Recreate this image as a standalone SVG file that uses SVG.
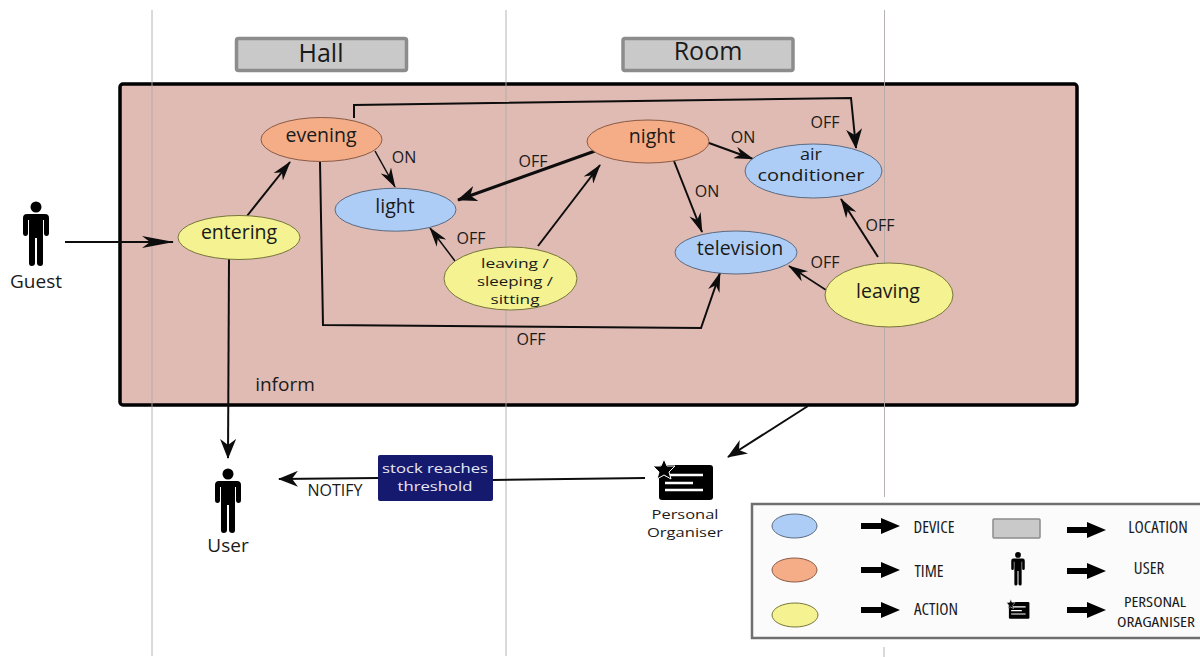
<svg xmlns="http://www.w3.org/2000/svg" width="1200" height="657" viewBox="0 0 1200 657">
<style>
text{font-family:"Open Sans","Liberation Sans",sans-serif;fill:#1a1a1a;text-anchor:middle}
.n{font-size:19.500px}.s{font-size:16px}.g{font-size:19px}
.l{font-size:13.200px}.h{font-size:25px}.o{font-size:13.200px}.a{font-size:15.500px}
.k{font-size:17px;font-stretch:condensed}
.k2{font-size:14.500px;font-stretch:condensed}
.dev{fill:#aecdf6;stroke:#5a6a80;stroke-width:1}
.tim{fill:#f4ad86;stroke:#8a5a45;stroke-width:1}
.act{fill:#f4f291;stroke:#77763a;stroke-width:1}
.loc{fill:#c9c9c9;stroke:#8c8c8c;stroke-width:3.500}
.c{fill:none;stroke:#0d0d0d;stroke-width:2}
.t{stroke-width:3}
.th{stroke-width:1.500}
.v{stroke:#b0aaa8;stroke-width:.9;fill:none}
</style>
<defs>
<marker id="a" viewBox="0 0 20 12" refX="19" refY="6" markerWidth="20" markerHeight="12" markerUnits="userSpaceOnUse" orient="auto"><path d="M0 0L20 6L0 12L6 6Z" fill="#0d0d0d"/></marker>
<marker id="b" viewBox="0 0 20 16" refX="19" refY="8" markerWidth="20" markerHeight="16" markerUnits="userSpaceOnUse" orient="auto"><path d="M0 0L20 8L0 16L6 8Z" fill="#0d0d0d"/></marker>
<marker id="g" viewBox="0 0 32 12" refX="31" refY="6" markerWidth="32" markerHeight="12" markerUnits="userSpaceOnUse" orient="auto"><path d="M0 0L32 6L0 12L8 6Z" fill="#0d0d0d"/></marker>
<g id="person"><circle cx="0" cy="-29" r="5.500" fill="#000"/><path d="M-9-22H9Q13-22 13-18V-3Q13 0 10.500 0Q8 0 8-3V-16H7V27Q7 30 4.500 30Q1 30 1 27V2H-1V27Q-1 30-4.500 30Q-7 30-7 27V-16H-8V-3Q-8 0-10.500 0Q-13 0-13-3V-18Q-13-22-9-22Z" fill="#000"/></g>
<g id="org"><rect x="5" y="-1" width="54" height="35" rx="3" fill="#000"/><path d="M11 9H49M11 17H39M11 24H49" stroke="#fff" stroke-width="2.500" fill="none"/><path d="M10-7L13 0L21 0L15 6L17 13L10 9L3 13L5 6L-1 0L7 0Z" fill="#000" stroke="#fff" stroke-width="1"/></g>
</defs>
<rect width="1200" height="657" fill="#fff"/>
<rect id="frame" x="120" y="84" width="957" height="321" rx="3" fill="#e0bbb4" stroke="#000" stroke-width="3.500"/>
<g id="lanes">
<path class="v" d="M152 10V656"/><path class="v" d="M506 10V656"/><path class="v" d="M884.500 10V497M884 647V657"/>
</g>
<g id="connectors">
<path class="c" d="M65 242H173" marker-end="url(#g)"/>
<path class="c" d="M247 216L290 162" marker-end="url(#a)"/>
<path class="c th" d="M375 151L395 187" marker-end="url(#a)"/>
<path class="c" d="M354 118V105L851 98L856 148" marker-end="url(#b)"/>
<path class="c" d="M320 162L323 325L701 328L720 273" marker-end="url(#a)"/>
<path class="c t" d="M595 151L458 200" marker-end="url(#b)"/>
<path class="c" d="M538 246L600 165" marker-end="url(#a)"/>
<path class="c th" d="M455 261L430 228" marker-end="url(#a)"/>
<path class="c" d="M709 143L753 159" marker-end="url(#a)"/>
<path class="c" d="M674 161L702 232" marker-end="url(#a)"/>
<path class="c" d="M878 257L841 199" marker-end="url(#a)"/>
<path class="c th" d="M826 290L789 266" marker-end="url(#a)"/>
<path class="c" d="M229 259L228 458" marker-end="url(#b)"/>
<path class="c" d="M808 406L728 457" marker-end="url(#b)"/>
<path class="c" d="M645 478L492 480"/>
<path class="c" d="M378 478L279 479" marker-end="url(#b)"/>
</g>
<g id="hall"><rect class="loc" x="236.500" y="38.500" width="170" height="32" rx="2"/><text class="h" x="321" y="62">Hall</text></g>
<g id="room"><rect class="loc" x="623" y="38.500" width="170" height="32" rx="2"/><text class="h" x="708" y="60">Room</text></g>
<g id="evening"><ellipse class="tim" cx="321.500" cy="139.500" rx="60.500" ry="22"/><text class="n" x="321" y="142">evening</text></g>
<g id="entering"><ellipse class="act" cx="239" cy="237.500" rx="61" ry="22"/><text class="n" x="239" y="239">entering</text></g>
<g id="light"><ellipse class="dev" cx="395.500" cy="209.700" rx="60.500" ry="21.500"/><text class="n" x="395" y="213">light</text></g>
<g id="leaving-sleeping-sitting"><ellipse class="act" cx="510.500" cy="278.500" rx="66.500" ry="31.500"/><text class="l" x="515" y="267.500" textLength="68" lengthAdjust="spacingAndGlyphs">leaving /</text><text class="l" x="515" y="285.500" textLength="76" lengthAdjust="spacingAndGlyphs">sleeping /</text><text class="l" x="515" y="303.500" textLength="49" lengthAdjust="spacingAndGlyphs">sitting</text></g>
<g id="night"><ellipse class="tim" cx="648" cy="141.500" rx="61" ry="21.500"/><text class="n" x="652" y="143">night</text></g>
<g id="air-conditioner"><ellipse class="dev" cx="813.500" cy="171" rx="68.500" ry="27"/><text class="a" x="811" y="160" textLength="22" lengthAdjust="spacingAndGlyphs">air</text><text class="a" x="811" y="181" textLength="107" lengthAdjust="spacingAndGlyphs">conditioner</text></g>
<g id="television"><ellipse class="dev" cx="736" cy="252.500" rx="61" ry="21.500"/><text class="n" x="740" y="255">television</text></g>
<g id="leaving"><ellipse class="act" cx="889" cy="295" rx="64" ry="32"/><text class="n" x="888" y="298">leaving</text></g>
<g id="labels">
<text class="s" x="404" y="163">ON</text><text class="s" x="533" y="167">OFF</text><text class="s" x="743" y="143">ON</text><text class="s" x="825" y="128">OFF</text><text class="s" x="707" y="197">ON</text><text class="s" x="880" y="231">OFF</text><text class="s" x="825" y="268">OFF</text><text class="s" x="471" y="244">OFF</text><text class="s" x="531" y="345">OFF</text>
<text class="g" x="285" y="391">inform</text><text class="s" x="335" y="496">NOTIFY</text>
</g>
<g id="guest"><use href="#person" x="36" y="236"/><text class="g" x="36" y="288">Guest</text></g>
<g id="user"><use href="#person" x="228" y="503"/><text class="g" x="228" y="552">User</text></g>
<g id="threshold"><rect x="378" y="455" width="115" height="46" rx="2" fill="#151a6f"/><text class="o" x="435" y="473" textLength="106" lengthAdjust="spacingAndGlyphs" style="fill:#e8e8f5">stock reaches</text><text class="o" x="435" y="491" textLength="75" lengthAdjust="spacingAndGlyphs" style="fill:#e8e8f5">threshold</text></g>
<g id="personal-organiser"><use href="#org" x="654" y="466"/><text class="o" x="685" y="519" textLength="67" lengthAdjust="spacingAndGlyphs">Personal</text><text class="o" x="685" y="537" textLength="76" lengthAdjust="spacingAndGlyphs">Organiser</text></g>
<g id="legend">
<rect x="752" y="504" width="460" height="134" fill="#fbfbfb" stroke="#6f6f6f" stroke-width="2.500"/>
<ellipse class="dev" cx="794.500" cy="526" rx="22.500" ry="12"/><ellipse class="tim" cx="794.500" cy="570" rx="22.500" ry="12"/><ellipse class="act" cx="795" cy="615" rx="23" ry="12"/>
<rect class="loc" x="993" y="519" width="47" height="19" rx="1" style="stroke-width:1.500"/>
<use href="#person" transform="translate(1018 570) scale(.52)"/><use href="#org" transform="translate(1007 602.500) scale(.38 .48)"/>
<g id="legend-arrows" fill="#000">
<path d="M861 523H881V518L900 526L881 534V529H861Z"/>
<path d="M861 567H881V562L900 570L881 578V573H861Z"/><path d="M861 607H881V602L900 610L881 618V613H861Z"/>
<path d="M1067 527H1087V522L1106 530L1087 538V533H1067Z"/><path d="M1067 568H1087V563L1106 571L1087 579V574H1067Z"/><path d="M1067 607H1087V602L1106 610L1087 618V613H1067Z"/>
</g>
<text class="k" x="934" y="533">DEVICE</text><text class="k" x="929" y="577">TIME</text><text class="k" x="936" y="615">ACTION</text><text class="k" x="1158" y="533">LOCATION</text><text class="k" x="1149" y="574">USER</text><text class="k2" x="1155" y="607" textLength="62" lengthAdjust="spacingAndGlyphs">PERSONAL</text><text class="k2" x="1156" y="627" textLength="78" lengthAdjust="spacingAndGlyphs">ORAGANISER</text>
</g>
</svg>
